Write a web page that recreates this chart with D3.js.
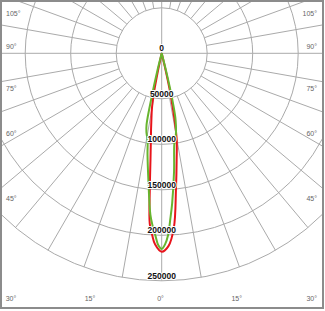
<!DOCTYPE html>
<html><head><meta charset="utf-8">
<script src="https://cdn.jsdelivr.net/npm/d3@7"></script>
<style>html,body{margin:0;padding:0;background:#fff;}svg{display:block;}</style>
</head><body>
<svg id="chart" width="325" height="311"></svg>
<script>
// ---- data ----
const ringValues = [0, 50000, 100000, 150000, 200000, 250000];
const ringLabels = ["0", "50000", "100000", "150000", "200000", "250000"];
const sideLabels = ["105°", "90°", "75°", "60°", "45°"];
const bottomLabels = ["30°", "15°", "0°", "15°", "30°"];
const redAngles  = [-13, -12, -11, -10, -9, -8, -7, -6, -5, -4, -3, -2, 0, 2, 4, 6, 8, 10, 12, 13, 14];
const redValues  = [0, 20000, 48000, 62000, 72000, 84000, 98000, 118000, 150000, 188000, 200000, 210000, 218000, 212000, 192000, 150000, 118000, 94000, 50000, 20000, 0];
const greenAngles = [-15, -14, -13, -12, -11, -10, -9, -8, -6, -4, -3, -2, -1, 0, 1, 2, 3, 4, 6, 8, 10, 11, 12, 13, 14, 15];
const greenValues = [0, 20000, 48000, 80000, 88000, 93000, 99000, 112000, 140000, 178000, 190000, 200000, 211000, 215000, 210000, 200000, 182000, 165000, 130000, 100000, 90000, 82000, 72000, 50000, 20000, 0];

// ---- layout ----
const W = 325, H = 311;
const cx = 161.7, cy = 53.3;
const svg = d3.select("#chart");
const r = d3.scaleLinear().domain([0, 250000]).range([0, 227.5]);
const gridColor = "#aaaaaa";

svg.append("defs").append("clipPath").attr("id", "frameClip")
  .append("rect").attr("x", 2).attr("y", 2).attr("width", 320).attr("height", 305);

const g = svg.append("g").attr("clip-path", "url(#frameClip)");
const c = g.append("g").attr("transform", `translate(${cx},${cy})`);

// rings
c.selectAll("circle.ring").data(ringValues.filter(v => v > 0)).join("circle")
  .attr("class", "ring").attr("r", d => r(d))
  .attr("fill", "none").attr("stroke", gridColor).attr("stroke-width", 1);

// radial lines every 10 deg, from inner ring to outer ring
const rad = d => d * Math.PI / 180;
const gridAngles = d3.range(0, 360, 10);
c.selectAll("line.spoke").data(gridAngles).join("line")
  .attr("class", "spoke")
  .attr("x1", d => (d % 90 === 0 ? 0 : r(50000)) * Math.sin(rad(d)))
  .attr("y1", d => (d % 90 === 0 ? 0 : r(50000)) * Math.cos(rad(d)))
  .attr("x2", d => (d === 90 || d === 180 || d === 270 ? 400 : r(250000)) * Math.sin(rad(d)))
  .attr("y2", d => (d === 90 || d === 180 || d === 270 ? 400 : r(250000)) * Math.cos(rad(d)))
  .attr("stroke", gridColor).attr("stroke-width", 1);

// curves
const line = d3.lineRadial()
  .angle(d => Math.PI - rad(d[0]))
  .radius(d => r(d[1]))
  .curve(d3.curveCatmullRom.alpha(0.5));

c.append("path").datum(redAngles.map((a, i) => [a, redValues[i]]))
  .attr("d", line).attr("fill", "none").attr("stroke", "#e8141b").attr("stroke-width", 2);
c.append("path").datum(greenAngles.map((a, i) => [a, greenValues[i]]))
  .attr("d", line).attr("fill", "none").attr("stroke", "#67b52f").attr("stroke-width", 2);

// ring labels
c.selectAll("text.rl").data(ringValues).join("text")
  .attr("class", "rl")
  .attr("x", 0).attr("y", d => r(d) - 2)
  .attr("text-anchor", "middle")
  .attr("font-family", "Liberation Sans, Arial, sans-serif")
  .attr("font-size", 8.5).attr("font-weight", "bold").attr("fill", "#111")
  .attr("stroke", "#fff").attr("stroke-width", 2).attr("paint-order", "stroke")
  .text((d, i) => ringLabels[i]);

// angle labels
const sideY = [13.3, 46.7, 88.3, 133.3, 198.3];
const bottomX = [11, 90, 160.5, 236.7, 311.7];
const lab = svg.append("g")
  .attr("font-family", "Liberation Sans, Arial, sans-serif")
  .attr("font-size", 7).attr("fill", "#666");
lab.selectAll("text.l").data(sideLabels).join("text").attr("class", "l")
  .attr("x", 6).attr("y", (d, i) => sideY[i] + 2.5).text(d => d);
lab.selectAll("text.r").data(sideLabels).join("text").attr("class", "r")
  .attr("x", 317).attr("y", (d, i) => sideY[i] + 2.5).attr("text-anchor", "end").text(d => d);
lab.selectAll("text.b").data(bottomLabels).join("text").attr("class", "b")
  .attr("x", (d, i) => bottomX[i]).attr("y", 301).attr("text-anchor", "middle").text(d => d);

// frame
svg.append("rect").attr("x", 1).attr("y", 1).attr("width", 322).attr("height", 307)
  .attr("fill", "none").attr("stroke", "#8c8c8c").attr("stroke-width", 2);
</script>
</body></html>
